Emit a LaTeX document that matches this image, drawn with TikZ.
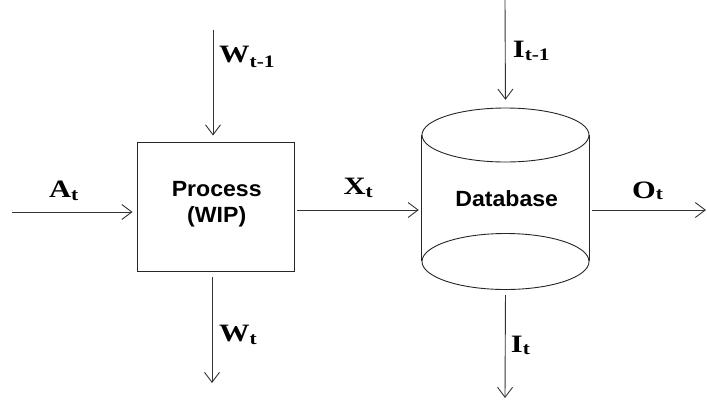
\documentclass[tikz,border=0pt]{standalone}
\usepackage{fontspec}
\setmainfont{Liberation Serif}
\setsansfont{Liberation Sans}
\usetikzlibrary{arrows.meta}
\newcommand{\flowlab}[3]{\scalebox{1.22}[1]{\fontsize{25}{25}\selectfont\bfseries #1\raisebox{-#3}{\fontsize{17.5}{17.5}\selectfont #2}}}
\newcommand{\boxtext}[1]{\scalebox{1.05}[1]{\fontsize{22}{22}\selectfont\sffamily\bfseries #1}}
\begin{document}
\begin{tikzpicture}[x=1pt,y=-1pt,
  flow/.style={draw=black!80,line width=0.9pt,-{Straight Barb[length=10pt,width=15pt,line width=0.9pt]}},
  shape line/.style={draw=black!85,line width=0.9pt},
  lab/.style={inner sep=0pt,anchor=base west},
  btext/.style={inner sep=0pt,anchor=base}]
\useasboundingbox (0,0) rectangle (707,408);
% process box
\node[shape line,minimum width=157pt,minimum height=129pt,inner sep=0pt] (proc) at (215.5,206.5) {};
\node[btext] (ptext) at (216.7,196.7) {\boxtext{Process}};
\node[btext] (wtext) at (216.7,222.7) {\boxtext{(WIP)}};
% database cylinder
\node[minimum width=167pt,minimum height=182pt,inner sep=0pt] (db) at (505.5,199) {};
\draw[shape line] (db.west |- 0,135) -- (db.west |- 0,261);
\draw[shape line] (db.east |- 0,135) -- (db.east |- 0,261);
\draw[shape line,fill=white] (505.5,261.5) ellipse [x radius=83.5pt,y radius=28pt];
\draw[shape line,fill=white] (505.5,135) ellipse [x radius=83.5pt,y radius=27pt];
\node[btext] (dbtext) at (506.7,206) {\boxtext{Database}};
% free ends
\coordinate (ain) at (12,212);
\coordinate (wtop) at (213,30);
\coordinate (wbot) at (212,383);
\coordinate (itop) at (505,0);
\coordinate (ibot) at (505,398);
\coordinate (oend) at (706,210);
% connectors
\draw[flow,shorten >=4pt] (ain) -- (proc.west |- ain);
\draw[flow,shorten >=6pt] (wtop) -- (wtop |- proc.north);
\draw[flow,shorten <=6pt] (wbot |- proc.south) -- (wbot);
\draw[flow,shorten <=3pt,shorten >=3pt] (proc.east |- 0,210) -- (db.west |- 0,210);
\draw[flow,shorten <=3pt] (db.east |- 0,210) -- (oend);
\draw[flow,shorten >=8pt] (itop) -- (db.north);
\draw[flow,shorten <=5pt] (db.south) -- (ibot);
% labels
\node[lab] (la) at (49,197) {\flowlab{A}{t}{3pt}};
\node[lab] (lw1) at (219,62.5) {\flowlab{W}{t-1}{5pt}};
\node[lab] (lw) at (219,341.7) {\flowlab{W}{t}{3pt}};
\node[lab] (lx) at (343.3,194) {\flowlab{X}{t}{3pt}};
\node[lab] (li1) at (512.7,57) {\flowlab{I}{t-1}{3pt}};
\node[lab] (li) at (510.7,352) {\flowlab{I}{t}{2pt}};
\node[lab] (lo) at (632,198) {\flowlab{O}{t}{1pt}};
\end{tikzpicture}
\end{document}
